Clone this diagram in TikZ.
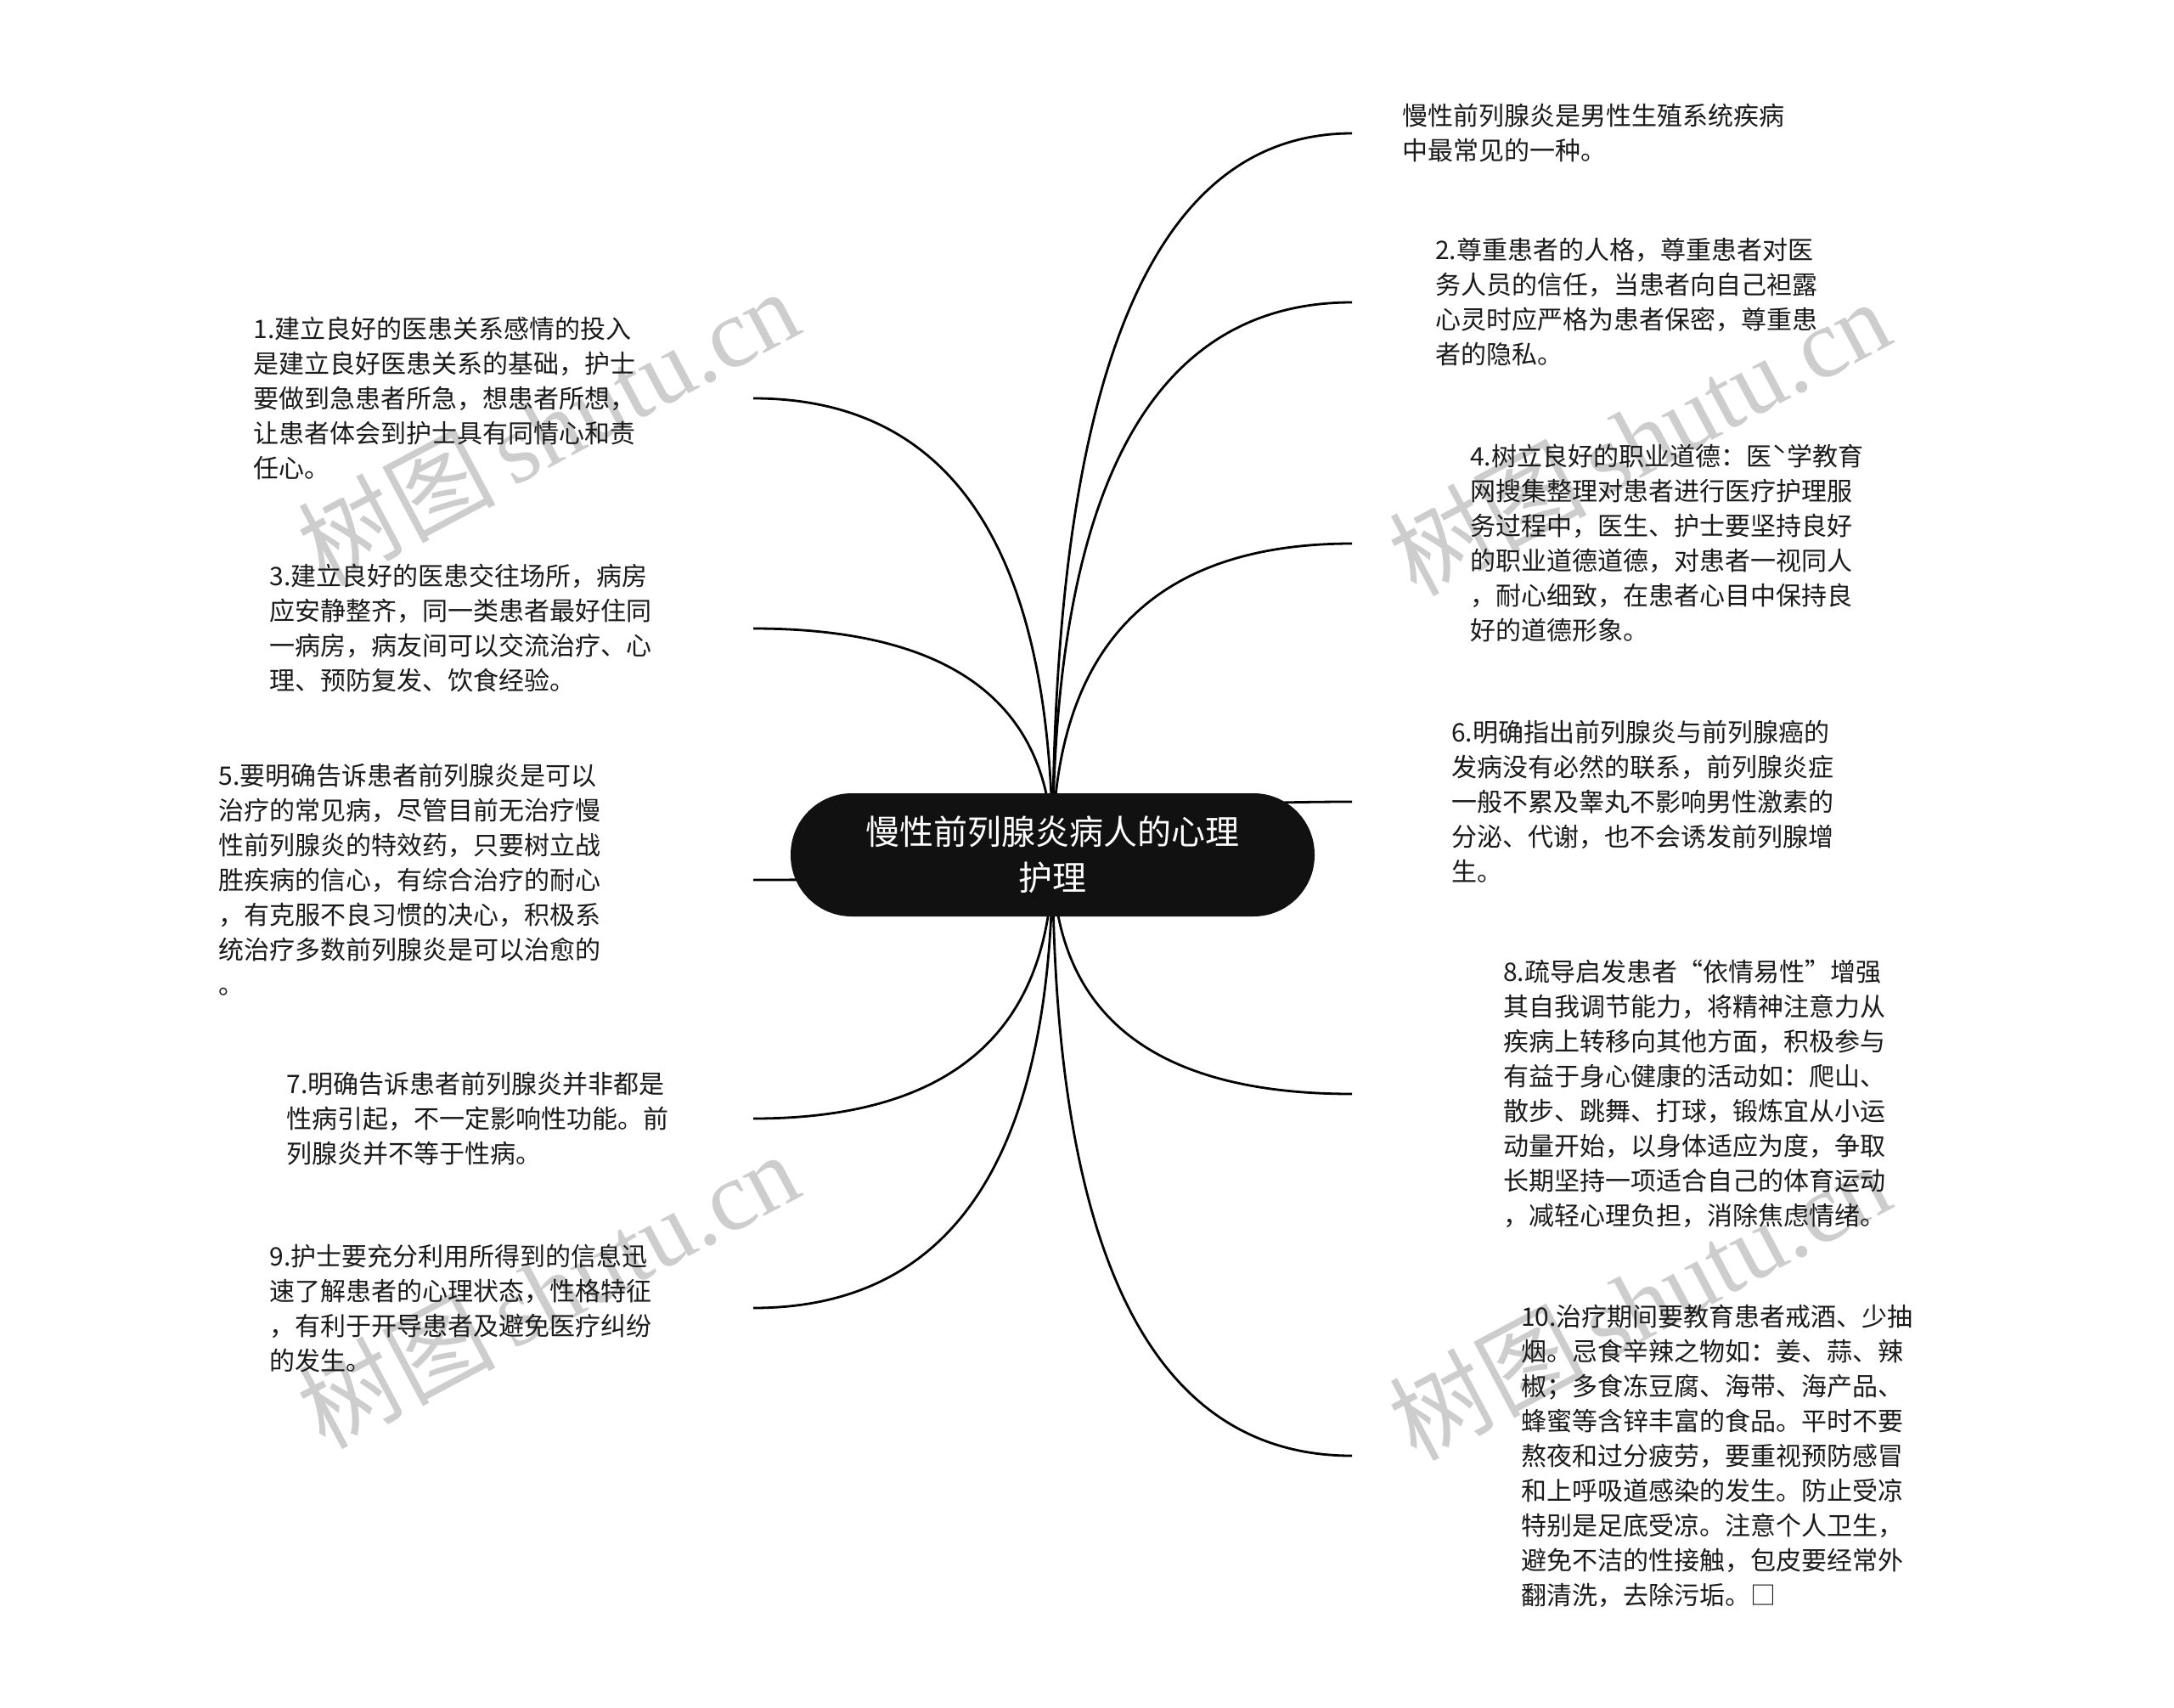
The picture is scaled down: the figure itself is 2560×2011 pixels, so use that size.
\documentclass[tikz,border=0pt]{standalone}
\usepackage{fontspec}
\setmainfont{Noto Sans CJK SC}
\newfontfamily\cjkwm{Noto Sans CJK SC}
\newfontfamily\wmserif{Liberation Serif}
\usetikzlibrary{calc}
\pgfdeclarelayer{paper}
\pgfdeclarelayer{bg}
\pgfdeclarelayer{wm}
\pgfsetlayers{paper,wm,bg,main}
\definecolor{hubfill}{HTML}{111111}
\definecolor{txt}{HTML}{1A1A1A}
\definecolor{wmgray}{HTML}{CDCDCD}
\newcommand\mylink[1]{\draw[link] (hub.center) .. controls ($(hub.center)!0.6667!(hub.center |- #1)$) and ($(#1)!0.6667!(hub.center |- #1)$) .. (#1);}
\begin{document}
\begin{tikzpicture}[x=1pt,y=-1pt,
  leaf/.style={inner ysep=0pt, text width=480pt, align=left, font=\fontsize{30}{41}\selectfont, text=txt},
  link/.style={line width=2.8pt, draw=black},
  wmark/.style={rotate=28, text=wmgray, inner sep=0pt, font=\fontsize{116}{116}\selectfont}]
\useasboundingbox (0,0) rectangle (2560,2011);
\begin{pgfonlayer}{paper}
\fill[white] (0,0) rectangle (2560,2011);
\end{pgfonlayer}

\node[fill=hubfill, rounded corners=72pt, minimum width=617pt, minimum height=145pt, text=white, align=center, inner sep=0pt, font=\fontsize{40}{54}\selectfont] (hub) at (1239.5,1006.5) {慢性前列腺炎病人的心理\\护理};

% right side
\node[leaf, anchor=west, inner xsep=59pt] (ra) at (1592,157) {慢性前列腺炎是男性生殖系统疾病\\中最常见的一种。};
\node[leaf, anchor=west, inner xsep=98pt] (r2) at (1592,356) {2.尊重患者的人格，尊重患者对医\\务人员的信任，当患者向自己袒露\\心灵时应严格为患者保密，尊重患\\者的隐私。};
\node[leaf, anchor=west, inner xsep=139pt] (r4) at (1592,640) {4.树立良好的职业道德：医ˋ学教育\\网搜集整理对患者进行医疗护理服\\务过程中，医生、护士要坚持良好\\的职业道德道德，对患者一视同人\\，耐心细致，在患者心目中保持良\\好的道德形象。};
\node[leaf, anchor=west, inner xsep=117pt] (r6) at (1592,944) {6.明确指出前列腺炎与前列腺癌的\\发病没有必然的联系，前列腺炎症\\一般不累及睾丸不影响男性激素的\\分泌、代谢，也不会诱发前列腺增\\生。};
\node[leaf, anchor=west, inner xsep=178pt] (r8) at (1592,1288) {8.疏导启发患者“依情易性”增强\\其自我调节能力，将精神注意力从\\疾病上转移向其他方面，积极参与\\有益于身心健康的活动如：爬山、\\散步、跳舞、打球，锻炼宜从小运\\动量开始，以身体适应为度，争取\\长期坚持一项适合自己的体育运动\\，减轻心理负担，消除焦虑情绪。};
\node[leaf, anchor=west, inner xsep=199pt] (r10) at (1592,1714) {10.治疗期间要教育患者戒酒、少抽\\烟。忌食辛辣之物如：姜、蒜、辣\\椒；多食冻豆腐、海带、海产品、\\蜂蜜等含锌丰富的食品。平时不要\\熬夜和过分疲劳，要重视预防感冒\\和上呼吸道感染的发生。防止受凉\\特别是足底受凉。注意个人卫生，\\避免不洁的性接触，包皮要经常外\\翻清洗，去除污垢。□};

% left side
\node[leaf, anchor=east, inner xsep=108pt] (l1) at (887,469) {1.建立良好的医患关系感情的投入\\是建立良好医患关系的基础，护士\\要做到急患者所急，想患者所想，\\让患者体会到护士具有同情心和责\\任心。};
\node[leaf, anchor=east, inner xsep=89pt] (l3) at (887,740) {3.建立良好的医患交往场所，病房\\应安静整齐，同一类患者最好住同\\一病房，病友间可以交流治疗、心\\理、预防复发、饮食经验。};
\node[leaf, anchor=east, inner xsep=149pt] (l5) at (887,1036) {5.要明确告诉患者前列腺炎是可以\\治疗的常见病，尽管目前无治疗慢\\性前列腺炎的特效药，只要树立战\\胜疾病的信心，有综合治疗的耐心\\，有克服不良习惯的决心，积极系\\统治疗多数前列腺炎是可以治愈的\\。};
\node[leaf, anchor=east, inner xsep=69pt] (l7) at (887,1317) {7.明确告诉患者前列腺炎并非都是\\性病引起，不一定影响性功能。前\\列腺炎并不等于性病。};
\node[leaf, anchor=east, inner xsep=89pt] (l9) at (887,1540) {9.护士要充分利用所得到的信息迅\\速了解患者的心理状态，性格特征\\，有利于开导患者及避免医疗纠纷\\的发生。};

\begin{pgfonlayer}{bg}
\mylink{ra.west}
\mylink{r2.west}
\mylink{r4.west}
\mylink{r6.west}
\mylink{r8.west}
\mylink{r10.west}
\mylink{l1.east}
\mylink{l3.east}
\mylink{l5.east}
\mylink{l7.east}
\mylink{l9.east}
\end{pgfonlayer}

\begin{pgfonlayer}{wm}
\node[wmark] (w1) at (645,502) {\cjkwm 树图\,\wmserif shutu.cn};
\node[wmark] (w2) at (1930,514) {\cjkwm 树图\,\wmserif shutu.cn};
\node[wmark] (w3) at (645,1518) {\cjkwm 树图\,\wmserif shutu.cn};
\node[wmark] (w4) at (1930,1532) {\cjkwm 树图\,\wmserif shutu.cn};
\end{pgfonlayer}
\end{tikzpicture}
\end{document}
